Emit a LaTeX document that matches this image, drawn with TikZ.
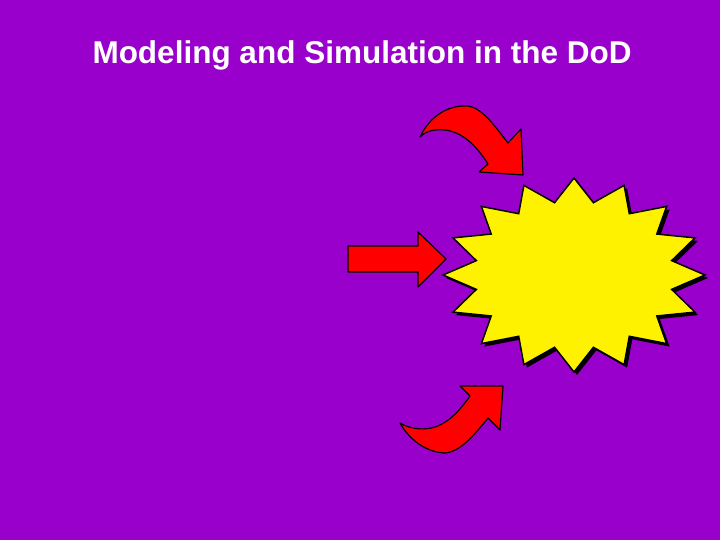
\documentclass[tikz,border=0pt]{standalone}
\usepackage{fontspec}
\setmainfont{Liberation Sans}
\usetikzlibrary{shadows}
\definecolor{slidebg}{RGB}{153,0,204}
\tikzset{redarrow/.style={draw=black,line width=1.2pt,fill=red,line join=round},
    burst/.style={draw=black,line width=1.5pt,fill=yellow,line join=miter,
        drop shadow={opacity=1,fill=black,shadow xshift=3pt,shadow yshift=-3pt}},
    x=1pt,y=-1pt}

\begin{document}
\begin{tikzpicture}
\fill[slidebg] (0,0) rectangle (720,540);
\useasboundingbox (0,0) rectangle (720,540);
\node[text=white,font=\bfseries\fontsize{31.5}{36}\selectfont,anchor=base]
    (title) at (362,64) {Modeling and Simulation in the DoD};
% star
\foreach \i in {0,...,31}{
    \pgfmathsetmacro{\rr}{mod(\i,2)==0 ? 1 : 0.76}
    \coordinate (s\i) at ({574+131*\rr*sin(\i*11.25)},{275-97*\rr*cos(\i*11.25)});
}
\draw[burst] (s0) \foreach \i in {1,...,31}{ -- (s\i)} -- cycle;
% arrows
\draw[redarrow] (420,137) .. controls (431,114) and (450,105) .. (468,106)
    .. controls (482,108) and (494,125) .. (508,143) -- (521,129) -- (523,175)
    -- (479,172) -- (488,164) .. controls (476,145) and (462,132) .. (445,130)
    .. controls (434,129) and (426,131) .. (420,137) -- cycle;
\draw[redarrow] (348,246) -- (418,246) -- (418,232) -- (446,259) -- (418,287)
    -- (418,272) -- (348,272) -- cycle;
\draw[redarrow] (400,423) .. controls (410,441) and (428,453) .. (446,453)
    .. controls (460,451) and (472,438) .. (488,418) -- (500,430) -- (503,386)
    -- (460,386) -- (470,396) .. controls (460,410) and (452,419) .. (440,425)
    .. controls (428,431) and (411,430) .. (400,423) -- cycle;
\end{tikzpicture}
\end{document}
